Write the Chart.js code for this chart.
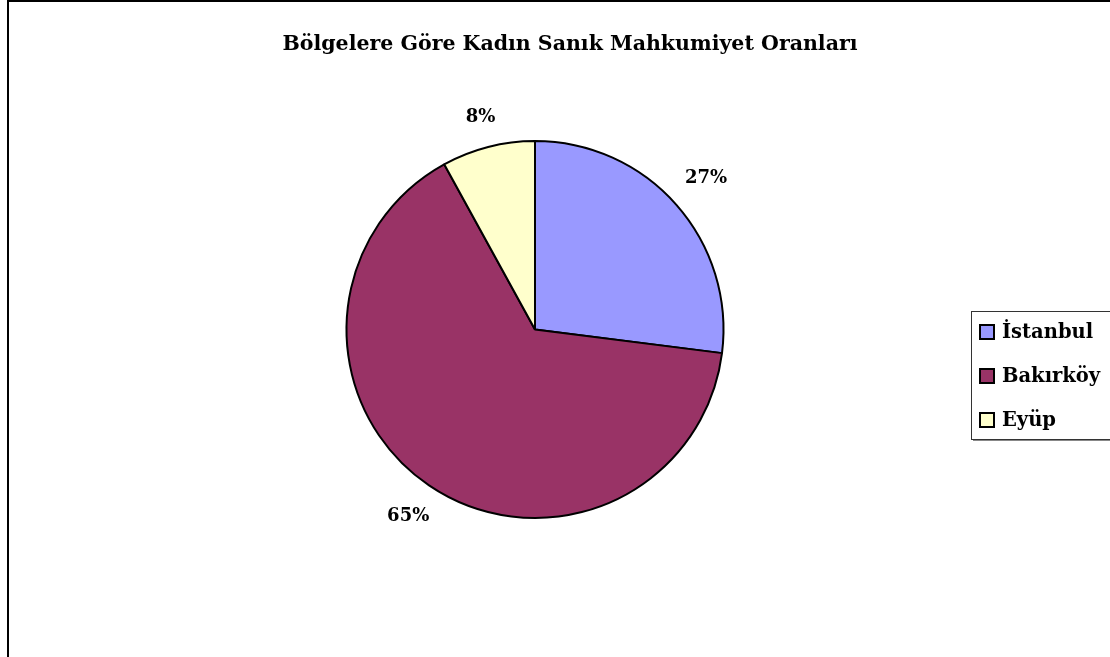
<!DOCTYPE html>
<html>
<head>
<meta charset="utf-8">
<script src="https://cdn.jsdelivr.net/npm/chart.js@4/dist/chart.umd.min.js"></script>
<style>
  html, body { margin: 0; padding: 0; background: #fff; }
  #wrap { width: 1110px; height: 657px; position: relative; }
</style>
</head>
<body>
<div id="wrap"><canvas id="pie" width="1110" height="657"></canvas></div>
<script>
// chart data
const titleText = "Bölgelere Göre Kadın Sanık Mahkumiyet Oranları";
const regions = ["İstanbul", "Bakırköy", "Eyüp"];
const shares = [27, 65, 8];
const sliceColors = ["#9999FF", "#993366", "#FFFFCC"];

const FONT = '"DejaVu Serif", serif';

// frame + title
const framePlugin = {
    id: "frame",
    beforeDraw(chart) {
        const ctx = chart.ctx;
        ctx.save();
        ctx.fillStyle = "#fff";
        ctx.fillRect(0, 0, chart.width, chart.height);
        ctx.strokeStyle = "#000";
        ctx.lineWidth = 2;
        ctx.beginPath();
        ctx.moveTo(8, chart.height);
        ctx.lineTo(8, 1);
        ctx.lineTo(chart.width, 1);
        ctx.stroke();

        ctx.fillStyle = "#000";
        ctx.font = "bold 20.5px " + FONT;
        ctx.textAlign = "center";
        ctx.textBaseline = "middle";
        ctx.fillText(titleText, 570, 45);
        ctx.restore();
    }
};

// percent labels outside each slice, pushed out by the text box size
const labelPlugin = {
    id: "outLabels",
    afterDatasetsDraw(chart) {
        const ctx = chart.ctx;
        const meta = chart.getDatasetMeta(0);
        const total = shares.reduce((a, b) => a + b, 0);
        ctx.save();
        ctx.fillStyle = "#000";
        ctx.font = "bold 18px " + FONT;
        ctx.textAlign = "center";
        ctx.textBaseline = "middle";
        meta.data.forEach((arc, i) => {
            const p = arc.getProps(["x", "y", "startAngle", "endAngle", "outerRadius"], true);
            const mid = (p.startAngle + p.endAngle) / 2;
            const pct = Math.round(shares[i] / total * 100) + "%";
            const hw = ctx.measureText(pct).width / 2;
            const c = Math.cos(mid), s = Math.sin(mid);
            const r = p.outerRadius + 17 + Math.abs(c) * hw + Math.abs(s) * 10;
            ctx.fillText(pct, p.x + c * r, p.y + s * r);
        });
        ctx.restore();
    }
};

// legend box on the right
const legendPlugin = {
    id: "boxLegend",
    afterDraw(chart) {
        const ctx = chart.ctx;
        ctx.save();
        ctx.fillStyle = "#888";
        ctx.fillRect(973, 313, 140, 128);
        ctx.fillStyle = "#fff";
        ctx.fillRect(971, 311, 140, 128);
        ctx.strokeStyle = "#333";
        ctx.lineWidth = 1;
        ctx.strokeRect(971.5, 311.5, 140, 128);

        ctx.font = "bold 19.5px " + FONT;
        ctx.textBaseline = "middle";
        ctx.textAlign = "left";
        regions.forEach((name, i) => {
            const y = 332 + i * 44;
            ctx.fillStyle = sliceColors[i];
            ctx.fillRect(980, y - 7, 14, 14);
            ctx.strokeStyle = "#000";
            ctx.lineWidth = 2;
            ctx.strokeRect(980, y - 7, 14, 14);
            ctx.fillStyle = "#000";
            ctx.fillText(name, 1002, y + 1);
        });
        ctx.restore();
    }
};

new Chart(document.getElementById("pie"), {
    type: "pie",
    data: {
        labels: regions,
        datasets: [{
            data: shares,
            backgroundColor: sliceColors,
            borderColor: "#000",
            borderWidth: 2
        }]
    },
    options: {
        responsive: false,
        animation: false,
        layout: { padding: { top: 140, bottom: 138, left: 235, right: 275 } },
        plugins: {
            legend: { display: false },
            title: { display: false },
            tooltip: { enabled: false }
        }
    },
    plugins: [framePlugin, labelPlugin, legendPlugin]
});
</script>
</body>
</html>
